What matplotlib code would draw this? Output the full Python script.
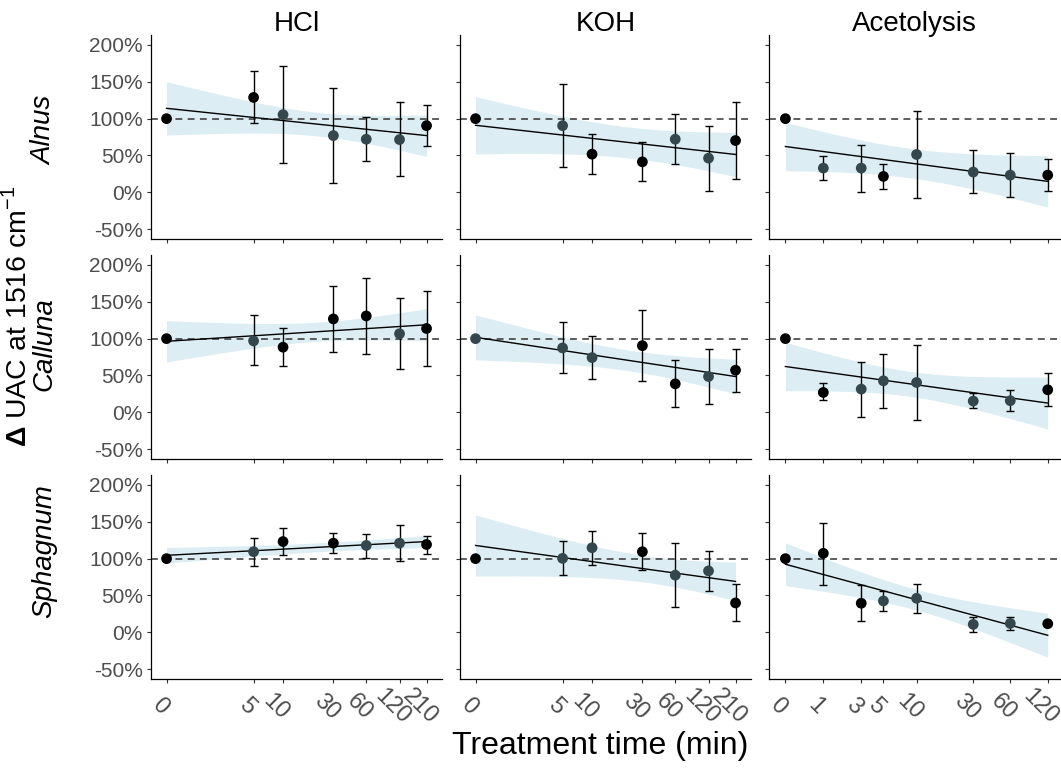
import numpy as np
import matplotlib
matplotlib.use("Agg")
import matplotlib.pyplot as plt
from matplotlib.transforms import ScaledTranslation

plt.rcParams['font.family'] = ['Liberation Sans', 'DejaVu Sans']
plt.rcParams['mathtext.fontset'] = 'custom'
plt.rcParams['mathtext.rm'] = 'Liberation Sans'
plt.rcParams['mathtext.bf'] = 'Liberation Sans:bold'

species = ["Alnus", "Calluna", "Sphagnum"]
treatments = ["HCl", "KOH", "Acetolysis"]

times_hcl = [0, 5, 10, 30, 60, 120, 210]
times_koh = [0, 5, 10, 30, 60, 120, 210]
times_acet = [0, 1, 3, 5, 10, 30, 60, 120]
ytick_values = [-50, 0, 50, 100, 150, 200]
ytick_labels = ["-50%", "0%", "50%", "100%", "150%", "200%"]
nan = float("nan")

# Alnus
mean_alnus_hcl = [100, 128.8, 105.4, 77.0, 72.1, 71.6, 90.5]
hi_alnus_hcl = [nan, 164.4, 171.6, 141.0, 102.3, 122.1, 118.9]
lo_alnus_hcl = [nan, 93.7, 39.6, 13.1, 41.9, 21.6, 62.6]
flag_alnus_hcl = [1, 1, 0, 0, 0, 0, 1]
fit_alnus_hcl = [114.0, 77.0]
band_alnus_hcl = [36.3, 16.0, 28.2]

mean_alnus_koh = [100, 90.5, 51.8, 41.4, 72.1, 46.4, 70.3]
hi_alnus_koh = [nan, 147.3, 79.3, 68.5, 105.9, 90.5, 123.0]
lo_alnus_koh = [nan, 34.2, 25.2, 15.3, 38.3, 2.3, 18.5]
flag_alnus_koh = [1, 0, 1, 1, 0, 0, 1]
fit_alnus_koh = [91.0, 51.4]
band_alnus_koh = [39.0, 21.0, 30.2]

mean_alnus_acet = [100, 32.9, 32.9, 21.6, 51.4, 27.5, 23.4, 23.4]
hi_alnus_acet = [nan, 49.6, 64.4, 38.7, 110.8, 57.2, 53.2, 45.5]
lo_alnus_acet = [nan, 16.2, 0.9, 5.0, -7.7, -0.9, -5.9, 1.8]
flag_alnus_acet = [1, 0, 0, 1, 0, 0, 0, 1]
fit_alnus_acet = [62.2, 14.9]
band_alnus_acet = [32.9, 20.0, 34.9]

# Calluna
mean_calluna_hcl = [100, 96.9, 88.4, 126.8, 130.8, 106.7, 113.8]
hi_calluna_hcl = [nan, 131.7, 114.7, 171.9, 182.6, 154.5, 165.2]
lo_calluna_hcl = [nan, 64.3, 63.4, 82.1, 78.6, 58.9, 62.9]
flag_calluna_hcl = [1, 0, 1, 1, 1, 0, 1]
fit_calluna_hcl = [96.4, 118.8]
band_calluna_hcl = [28.1, 13.0, 22.0]

mean_calluna_koh = [100, 87.4, 74.3, 90.5, 38.7, 48.6, 57.2]
hi_calluna_koh = [nan, 122.5, 103.2, 139.2, 70.7, 86.0, 86.0]
lo_calluna_koh = [nan, 53.2, 45.0, 42.8, 6.8, 11.7, 27.9]
flag_calluna_koh = [0, 0, 0, 1, 1, 0, 1]
fit_calluna_koh = [101.8, 48.6]
band_calluna_koh = [30.6, 14.0, 23.4]

mean_calluna_acet = [100, 27.0, 31.5, 42.8, 40.5, 15.3, 15.8, 30.6]
hi_calluna_acet = [nan, 39.2, 68.5, 79.7, 91.9, 25.7, 30.2, 53.6]
lo_calluna_acet = [nan, 16.2, -5.9, 6.3, -10.4, 5.4, 2.3, 8.1]
flag_calluna_acet = [1, 1, 0, 0, 0, 0, 0, 1]
fit_calluna_acet = [62.2, 12.6]
band_calluna_acet = [32.9, 17.0, 35.3]

# Sphagnum
mean_sphagnum_hcl = [100, 109.4, 123.2, 121.0, 117.9, 121.0, 119.2]
hi_sphagnum_hcl = [nan, 128.1, 141.1, 134.8, 133.9, 145.5, 130.4]
lo_sphagnum_hcl = [nan, 90.2, 104.9, 107.6, 100.4, 96.9, 106.7]
flag_sphagnum_hcl = [1, 0, 1, 1, 0, 0, 1]
fit_sphagnum_hcl = [104.5, 123.2]
band_sphagnum_hcl = [10.7, 6.0, 8.3]

mean_sphagnum_koh = [100, 100.4, 114.8, 109.4, 77.6, 83.4, 39.9]
hi_sphagnum_koh = [nan, 123.8, 137.7, 135.0, 121.5, 110.3, 65.5]
lo_sphagnum_koh = [nan, 77.6, 91.9, 84.8, 34.1, 56.5, 14.8]
flag_sphagnum_koh = [1, 0, 0, 1, 0, 0, 1]
fit_sphagnum_koh = [117.9, 69.1]
band_sphagnum_koh = [41.5, 18.0, 26.2]

mean_sphagnum_acet = [100, 107.2, 39.5, 42.6, 46.2, 10.8, 12.1, 11.7]
hi_sphagnum_acet = [nan, 148.4, 64.6, 56.5, 65.0, 20.6, 20.2, 13.0]
lo_sphagnum_acet = [nan, 64.1, 15.7, 28.7, 26.9, 0.9, 3.6, 10.4]
flag_sphagnum_acet = [1, 1, 1, 0, 0, 0, 0, 1]
fit_sphagnum_acet = [92.4, -4.0]
band_sphagnum_acet = [29.1, 14.0, 29.9]

panels = {
    ("Alnus", "HCl"): (times_hcl, mean_alnus_hcl, hi_alnus_hcl, lo_alnus_hcl, flag_alnus_hcl, fit_alnus_hcl, band_alnus_hcl),
    ("Alnus", "KOH"): (times_koh, mean_alnus_koh, hi_alnus_koh, lo_alnus_koh, flag_alnus_koh, fit_alnus_koh, band_alnus_koh),
    ("Alnus", "Acetolysis"): (times_acet, mean_alnus_acet, hi_alnus_acet, lo_alnus_acet, flag_alnus_acet, fit_alnus_acet, band_alnus_acet),
    ("Calluna", "HCl"): (times_hcl, mean_calluna_hcl, hi_calluna_hcl, lo_calluna_hcl, flag_calluna_hcl, fit_calluna_hcl, band_calluna_hcl),
    ("Calluna", "KOH"): (times_koh, mean_calluna_koh, hi_calluna_koh, lo_calluna_koh, flag_calluna_koh, fit_calluna_koh, band_calluna_koh),
    ("Calluna", "Acetolysis"): (times_acet, mean_calluna_acet, hi_calluna_acet, lo_calluna_acet, flag_calluna_acet, fit_calluna_acet, band_calluna_acet),
    ("Sphagnum", "HCl"): (times_hcl, mean_sphagnum_hcl, hi_sphagnum_hcl, lo_sphagnum_hcl, flag_sphagnum_hcl, fit_sphagnum_hcl, band_sphagnum_hcl),
    ("Sphagnum", "KOH"): (times_koh, mean_sphagnum_koh, hi_sphagnum_koh, lo_sphagnum_koh, flag_sphagnum_koh, fit_sphagnum_koh, band_sphagnum_koh),
    ("Sphagnum", "Acetolysis"): (times_acet, mean_sphagnum_acet, hi_sphagnum_acet, lo_sphagnum_acet, flag_sphagnum_acet, fit_sphagnum_acet, band_sphagnum_acet),
}

W, H = 1061, 769
fig = plt.figure(figsize=(W / 100, H / 100), dpi=100)

col_left = [151, 460, 769]
col_w = 291
row_top = [35, 255, 475]
row_h = 204
row_label_y = [130, 344, 551]

RIBBON = "#dceef3"
GREY_PT = "#34474c"
TICK_GREY = "#4d4d4d"


def tr(t):
    return np.log1p(np.asarray(t, dtype=float))


for i, sp in enumerate(species):
    for j, trt in enumerate(treatments):
        times, mean, hi, lo, flag, fit, band = panels[(sp, trt)]
        ax = fig.add_axes([col_left[j] / W, (H - row_top[i] - row_h) / H, col_w / W, row_h / H])
        x = tr(times)
        L = x.max()
        # confidence band of the linear fit (hyperbolic, narrowest near the centre)
        hw0, hwmin, hwmax = band
        r = np.sqrt((hwmax ** 2 - hwmin ** 2) / (hw0 ** 2 - hwmin ** 2))
        c = L / (1 + r)
        b = (hw0 ** 2 - hwmin ** 2) / c ** 2
        xs = np.linspace(0, L, 200)
        fitline = fit[0] + (fit[1] - fit[0]) * xs / L
        hw = np.sqrt(hwmin ** 2 + b * (xs - c) ** 2)
        ax.fill_between(xs, fitline - hw, fitline + hw, color=RIBBON, lw=0, zorder=1)
        ax.axhline(100, color="#333333", lw=1.1, ls=(0, (4.5, 3.5)), zorder=2)
        ax.plot(xs, fitline, color="black", lw=1.0, zorder=3)
        m = np.asarray(mean, dtype=float)
        h = np.asarray(hi, dtype=float)
        l = np.asarray(lo, dtype=float)
        ok = ~np.isnan(h)
        ax.errorbar(x[ok], m[ok], yerr=[m[ok] - l[ok], h[ok] - m[ok]], fmt="none",
                    ecolor="black", elinewidth=1.0, capsize=2.8, capthick=1.0, zorder=4)
        cols = ["black" if f else GREY_PT for f in flag]
        ax.scatter(x, m, s=60, c=cols, edgecolors="none", zorder=5)

        if trt == "Acetolysis":
            ax.set_xlim(-0.30, 5.02)
        else:
            ax.set_xlim(-0.32, 5.67)
        ax.set_ylim(-63.3, 213.5)
        for s in ["top", "right"]:
            ax.spines[s].set_visible(False)
        for s in ["left", "bottom"]:
            ax.spines[s].set_linewidth(0.9)
        ax.set_yticks(ytick_values)
        ax.set_xticks(x)
        ax.tick_params(axis="both", length=3, width=0.8, color="#333333",
                       labelsize=15, labelcolor=TICK_GREY, pad=3)
        ax.tick_params(axis="x", pad=17)
        if j == 0:
            ax.set_yticklabels(ytick_labels)
        else:
            ax.set_yticklabels([])
        if i == 2:
            ax.set_xticklabels([str(t) for t in times], rotation=-45,
                               ha="center", va="center", rotation_mode="anchor")
            shift = ScaledTranslation(-7 / 100, 0, fig.dpi_scale_trans)
            for lab in ax.get_xticklabels():
                lab.set_fontsize(17)
                lab.set_transform(lab.get_transform() + shift)
        else:
            ax.set_xticklabels([])
        if i == 0:
            ax.text(0.5, 1.0 + 11 / row_h, trt, transform=ax.transAxes, ha="center",
                    va="center", fontsize=20)
        if j == 0:
            fig.text(44 / W, 1 - row_label_y[i] / H, sp, rotation=90,
                     ha="center", va="center", fontsize=20, style="italic")

fig.text(17 / W, 1 - 316 / H, r"$\mathbf{\Delta}$ UAC at 1516 cm$^{-1}$", rotation=90,
         ha="center", va="center", fontsize=20.5)
fig.text(600 / W, 1 - 746 / H, "Treatment time (min)", ha="center", va="center", fontsize=23)

fig.savefig("out.png", dpi=100)
